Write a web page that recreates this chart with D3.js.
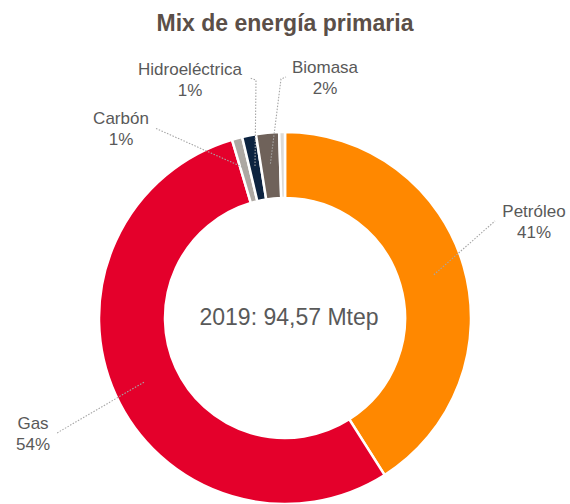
<!DOCTYPE html>
<html><head><meta charset="utf-8">
<script src="https://cdn.jsdelivr.net/npm/d3@7"></script>
<style>body{margin:0;background:#fff;} svg{display:block;font-family:"Liberation Sans",Arial,sans-serif;}</style>
</head><body>
<svg id="chart" width="570" height="504"></svg>
<script>
// Data
const title = "Mix de energía primaria";
const centerLabel = "2019: 94,57 Mtep";
const categories = ["Petróleo", "Gas", "Carbón", "Hidroeléctrica", "Biomasa", "Otros"];
const values = [41.0, 54.4, 0.9, 1.2, 2.0, 0.5];
const pctLabels = ["41%", "54%", "1%", "1%", "2%", ""];
const colors = ["#FF8800", "#E4002B", "#ADA8A3", "#0C2340", "#6F625A", "#DCDAD7"];

// Layout (label placement)
const labelLayout = {
  "Petróleo":       {x: 534, y: 217, path: [[495, 221]]},
  "Gas":            {x: 33,  y: 429, path: [[57, 433]]},
  "Carbón":         {x: 121, y: 124, path: [[155, 128]]},
  "Hidroeléctrica": {x: 190, y: 75,  path: [[256, 80], [250, 78]]},
  "Biomasa":        {x: 325, y: 73,  path: [[281, 79], [286, 77]]}
};

const svg = d3.select("#chart");
const cx = 285, cy = 318, rOuter = 186, rInner = 120;

svg.append("text").attr("x", 285).attr("y", 31).attr("text-anchor", "middle")
  .attr("font-size", 23).attr("font-weight", "bold").attr("fill", "#5B4F48").text(title);

const pie = d3.pie().sort(null).value(d => d.v);
const data = categories.map((c, i) => ({c, v: values[i], p: pctLabels[i], col: colors[i]}));
const arcs = pie(data);
const arc = d3.arc().innerRadius(rInner).outerRadius(rOuter);
const mid = d3.arc().innerRadius(155).outerRadius(155);

const g = svg.append("g").attr("transform", `translate(${cx},${cy})`);
g.selectAll("path.slice").data(arcs).join("path").attr("class", "slice")
  .attr("d", arc).attr("fill", d => d.data.col).attr("stroke", "#fff").attr("stroke-width", 2.5);

// leader lines
arcs.forEach(a => {
  const L = labelLayout[a.data.c];
  if (!L) return;
  const [mx, my] = mid.centroid(a);
  const pts = [[mx + cx, my + cy]].concat(L.path);
  svg.append("path").attr("d", d3.line()(pts)).attr("fill", "none")
    .attr("stroke", "#A6A6A6").attr("stroke-width", 1.1).attr("stroke-dasharray", "1.5,1.5");
  const t = svg.append("text").attr("text-anchor", "middle").attr("font-size", 17).attr("fill", "#595959");
  t.append("tspan").attr("x", L.x).attr("y", L.y).text(a.data.c);
  t.append("tspan").attr("x", L.x).attr("y", L.y + 21).text(a.data.p);
});

svg.append("text").attr("x", 289).attr("y", 325).attr("text-anchor", "middle")
  .attr("font-size", 23).attr("fill", "#595959").text(centerLabel);
</script>
</body></html>
